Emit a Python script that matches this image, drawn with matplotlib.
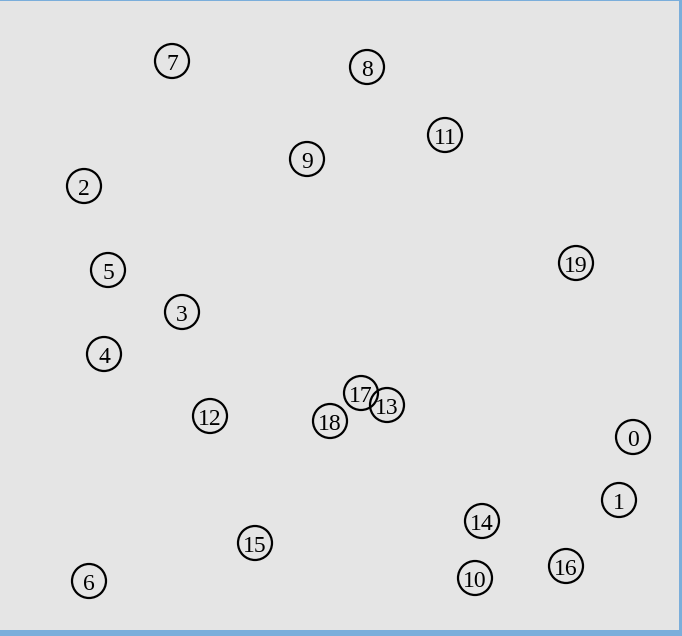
import matplotlib.pyplot as plt
from matplotlib.patches import Circle

# node labels and their positions (canvas pixels, y down)
labels = [str(i) for i in range(20)]
xs = [633, 619, 84, 182, 104, 108, 89, 172, 367, 307,
      475, 445, 210, 387, 482, 255, 566, 361, 330, 576]
ys = [437, 500, 186, 312, 354, 270, 581, 61, 67, 159,
      578, 135, 416, 405, 521, 543, 566, 393, 421, 263]

W, H = 682, 636
fig = plt.figure(figsize=(W / 100, H / 100), dpi=100)
fig.patch.set_facecolor("#7baedb")

# canvas area (border: top 1px, right 3px, bottom 6px)
ax = fig.add_axes([0, 6 / H, 679 / W, (H - 7) / H])
ax.set_facecolor("#e5e5e5")
ax.set_xlim(0, 679)
ax.set_ylim(630, 1)
ax.set_axis_off()
ax.add_patch(plt.Rectangle((0, 1), 679, 629, facecolor="#e5e5e5", edgecolor="none", zorder=0))

for lab, x, y in zip(labels, xs, ys):
    ax.add_patch(Circle((x, y), 17, facecolor="none", edgecolor="black", lw=1.6, zorder=2))
    ax.text(x, y + 4, lab, ha="center", va="center", fontsize=17,
            family="Liberation Serif", color="black", zorder=3)

fig.savefig("out.png", dpi=100)
